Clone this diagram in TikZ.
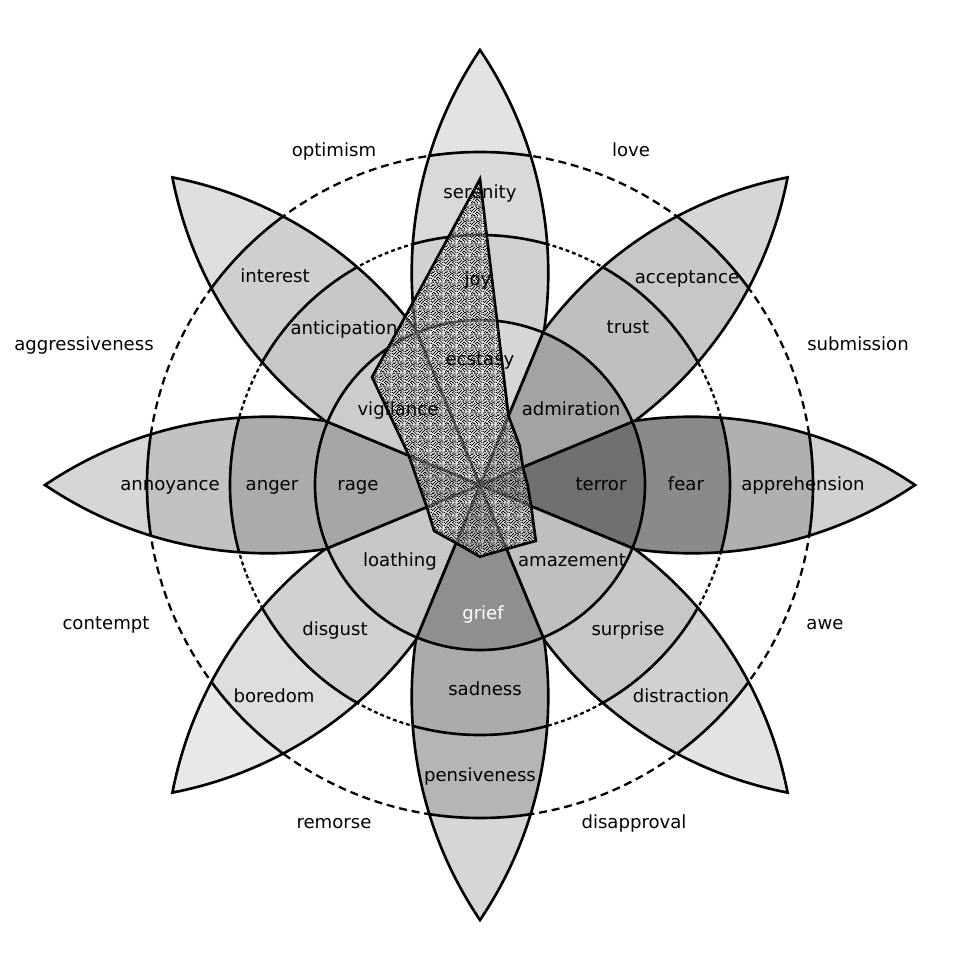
\documentclass[tikz,border=0pt]{standalone}
\usepackage{fontspec}
\setmainfont{DejaVu Sans}
\usepackage{tikz}
\usetikzlibrary{patterns}
\newcommand{\lens}{(0,435) arc[start angle=34.05, end angle=-34.05, radius=398.3] arc[start angle=214.05, end angle=145.95, radius=398.3] -- cycle}
\newcommand{\petal}[4]{%
  \begin{scope}[rotate=#1]
    \begin{scope}
      \clip \lens;
      \fill[#2] (0,0) circle (440);
      \fill[#3] (0,0) circle (333);
      \fill[#4] (0,0) circle (250);
      \draw[wheel] (0,0) circle (333) (0,0) circle (250);
    \end{scope}
    \draw[wheel] \lens;
  \end{scope}}
\newcommand{\core}[2]{%
  \filldraw[wheel, fill=#2, rotate=#1] (0,0) -- (67.5:165) arc[start angle=67.5, end angle=112.5, radius=165] -- cycle;}
\pgfdeclarepatternformonly{stipple}{\pgfpointorigin}{\pgfqpoint{7.2pt}{7.2pt}}{\pgfqpoint{7.2pt}{7.2pt}}{%
  \foreach \i/\j in {0/2,0/7,0/10,1/0,1/4,1/8,2/1,2/5,2/11,3/3,3/6,3/9,4/0,4/4,4/7,4/11,5/2,5/5,5/9,6/1,6/6,6/8,6/10,7/0,7/3,7/7,7/11,8/2,8/5,8/9,9/1,9/4,9/6,9/10,10/0,10/3,10/8,10/11,11/2,11/5,11/7,11/9,1/11,3/0,5/11,8/7,2/8,0/5,6/3,9/8}
    {\pgfpathrectangle{\pgfpoint{\i*0.6pt}{\j*0.6pt}}{\pgfqpoint{0.6pt}{0.6pt}}\pgfusepath{fill}}}

\begin{document}
\begin{tikzpicture}[x=0.02cm, y=0.02cm,
    wheel/.style={line width=1.5pt, line join=miter},
    outerdash/.style={line width=1.3pt, dash pattern=on 4.5pt off 2.8pt},
    innerdash/.style={line width=1.3pt, dash pattern=on 2.2pt off 1.7pt},
    lbl/.style={anchor=base, inner sep=0pt, font=\fontsize{10.3}{12}\selectfont}]
  \useasboundingbox (-480,-486) rectangle (480,485);
  \draw[outerdash] (0,0) circle (333);
  \draw[innerdash] (0,0) circle (250);
  % petals: rotation, tip, mild, basic
  \petal{0}{black!11}{black!15}{black!18}
  \petal{-45}{black!16}{black!22}{black!25}
  \petal{-90}{black!18}{black!31}{black!46}
  \petal{-135}{black!11}{black!18}{black!22}
  \petal{180}{black!16}{black!29}{black!33}
  \petal{135}{black!9}{black!13}{black!18}
  \petal{90}{black!16}{black!24}{black!33}
  \petal{45}{black!13}{black!19}{black!22}
  % intense emotions
  \core{0}{black!16}
  \core{-45}{black!36}
  \core{-90}{black!56}
  \core{-135}{black!25}
  \core{180}{black!44}
  \core{135}{black!22}
  \core{90}{black!35}
  \core{45}{black!20}
  % scores
  \def\scores{(90:306) -- (67.5:74.6) -- (45:56) -- (22.5:46.4) -- (0:47.7) -- (-22.5:55.4) -- (-45:79) -- (-67.5:69.2) -- (-90:71.7) -- (-112.5:62.8) -- (-135:64.9) -- (-157.5:57.6) -- (180:61) -- (157.5:77) -- (135:152.7) -- (112.5:188) -- cycle}
  \fill[white, fill opacity=0.45] \scores;
  % labels
  \node[lbl] (serenity) at (0,287) {serenity};
  \node[lbl] (joy) at (-2,200) {joy};
  \node[lbl] (ecstasy) at (0,120) {ecstasy};
  \node[lbl] (acceptance) at (207,202) {acceptance};
  \node[lbl] (trust) at (148,152) {trust};
  \node[lbl] (admiration) at (91,70) {admiration};
  \node[lbl] (apprehension) at (323,-5) {apprehension};
  \node[lbl] (fear) at (206,-5) {fear};
  \node[lbl] (terror) at (121,-5) {terror};
  \node[lbl] (distraction) at (201,-217) {distraction};
  \node[lbl] (surprise) at (148,-150) {surprise};
  \node[lbl] (amazement) at (92,-81) {amazement};
  \node[lbl] (pensiveness) at (0,-296) {pensiveness};
  \node[lbl] (sadness) at (5,-210) {sadness};
  \node[lbl, white] (grief) at (3,-134) {grief};
  \node[lbl] (boredom) at (-206,-217) {boredom};
  \node[lbl] (disgust) at (-145,-150) {disgust};
  \node[lbl] (loathing) at (-80,-81) {loathing};
  \node[lbl] (annoyance) at (-310,-5) {annoyance};
  \node[lbl] (anger) at (-208,-5) {anger};
  \node[lbl] (rage) at (-122,-5) {rage};
  \node[lbl] (interest) at (-205,203) {interest};
  \node[lbl] (anticipation) at (-136,151) {anticipation};
  \node[lbl] (vigilance) at (-82,70) {vigilance};
  % dyads
  \node[lbl] (optimism) at (-146,329) {optimism};
  \node[lbl] (love) at (151,329) {love};
  \node[lbl] (submission) at (378,135) {submission};
  \node[lbl] (awe) at (345,-144) {awe};
  \node[lbl] (disapproval) at (154,-343) {disapproval};
  \node[lbl] (remorse) at (-146,-343) {remorse};
  \node[lbl] (contempt) at (-374,-144) {contempt};
  \node[lbl] (aggressiveness) at (-396,135) {aggressiveness};
  \draw[wheel, pattern=stipple] \scores;
\end{tikzpicture}
\end{document}
